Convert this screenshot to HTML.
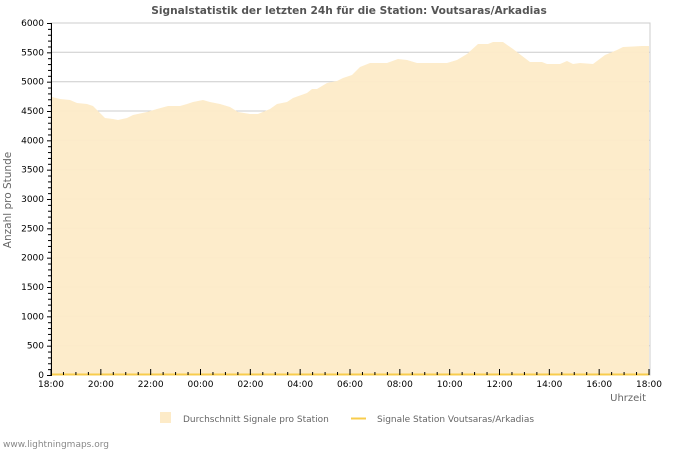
<!DOCTYPE html>
<html><head><meta charset="utf-8"><style>
body{margin:0;background:#fff;}
svg text{font-family:"DejaVu Sans","Liberation Sans",sans-serif;}
</style></head><body>
<svg width="700" height="450" xmlns="http://www.w3.org/2000/svg">
<text x="349" y="14" text-anchor="middle" font-size="10.6" font-weight="bold" fill="#555">Signalstatistik der letzten 24h für die Station: Voutsaras/Arkadias</text>
<rect x="51" y="23" width="599" height="352" fill="none" stroke="#ccc"/>
<g stroke="#ccc" stroke-width="1">
<line x1="51" x2="650" y1="52.3" y2="52.3"/><line x1="51" x2="650" y1="81.7" y2="81.7"/>
<line x1="51" x2="650" y1="111" y2="111"/><line x1="51" x2="650" y1="140.3" y2="140.3"/>
<line x1="51" x2="650" y1="169.7" y2="169.7"/><line x1="51" x2="650" y1="199" y2="199"/>
<line x1="51" x2="650" y1="228.3" y2="228.3"/><line x1="51" x2="650" y1="257.7" y2="257.7"/>
<line x1="51" x2="650" y1="287" y2="287"/><line x1="51" x2="650" y1="316.3" y2="316.3"/>
<line x1="51" x2="650" y1="345.7" y2="345.7"/>
</g>
<polygon fill="#fdebc8" fill-opacity="0.95" points="52,375 52,97 60,99 70,100 77,103 87,104 93,106 100,113 105,118 113,119 118,120 127,118 133,115 147,112 157,109 168,106 180,106 187,104 193,102 203,100 210,102 220,104 230,107 238,112 250,114 258,114 270,109 277,104 287,102 293,98 307,93 312,89 317,89 327,83 337,81 343,78 352,75 360,67 370,63 387,63 398,59 407,60 417,63 447,63 457,60 467,54 478,44 488,44 493,42 503,42 513,49 530,62 542,62 547,64 560,64 567,61 573,64 580,63 593,64 605,55 617,50 623,47 642,46 649,46 649,375"/>
<line x1="51" x2="649" y1="374.5" y2="374.5" stroke="#f8cc4c" stroke-width="2"/>
<line x1="51.5" x2="51.5" y1="23" y2="375" stroke="#000"/>
<g stroke="#000" id="yt"></g>
<g stroke="#000" id="xt"></g>
<g font-size="9" fill="#000" text-anchor="end" id="yl"></g>
<g font-size="9" fill="#000" text-anchor="middle" id="xl"></g>
<text x="646" y="401" text-anchor="end" font-size="10" fill="#666">Uhrzeit</text>
<text transform="translate(11,200) rotate(-90)" text-anchor="middle" font-size="10.5" fill="#666">Anzahl pro Stunde</text>
<rect x="160" y="412" width="11" height="11" fill="#fdebc8"/>
<text x="183" y="422" font-size="9" fill="#666">Durchschnitt Signale pro Station</text>
<line x1="351" x2="366" y1="418.5" y2="418.5" stroke="#f8cc4c" stroke-width="2"/>
<text x="377" y="422" font-size="9" fill="#666">Signale Station Voutsaras/Arkadias</text>
<text x="3" y="447" font-size="9" fill="#888">www.lightningmaps.org</text>
</svg>
<script>
var ns="http://www.w3.org/2000/svg";
function el(p,t,a,txt){var e=document.createElementNS(ns,t);for(var k in a)e.setAttribute(k,a[k]);if(txt)e.textContent=txt;document.getElementById(p).appendChild(e);}
for(var v=0;v<=6000;v+=100){var y=375-v*352/6000;var maj=v%500==0;el("yt","line",{x1:maj?47:48,x2:maj?52:51,y1:y+0.5,y2:y+0.5});if(maj)el("yl","text",{x:44,y:y+3},String(v));}
var labs=["18:00","20:00","22:00","00:00","02:00","04:00","06:00","08:00","10:00","12:00","14:00","16:00","18:00"];
for(var i=0;i<=48;i++){var x=51+i*598/48;var maj=i%4==0;el("xt","line",{x1:x,x2:x,y1:maj?369:372,y2:375});if(maj)el("xl","text",{x:x,y:387},labs[i/4]);}
</script>
</body></html>
